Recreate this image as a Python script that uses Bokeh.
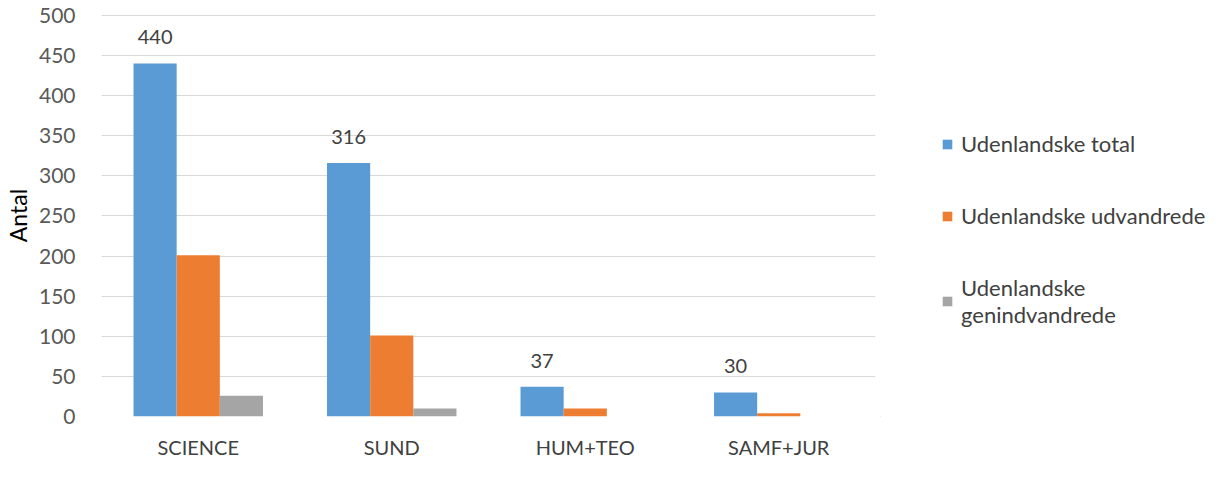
from bokeh.plotting import figure
from bokeh.models import ColumnDataSource, FactorRange, Range1d, Legend, LegendItem
from bokeh.layouts import row
from bokeh.transform import dodge
from bokeh.core.properties import value
from bokeh.embed import file_html
from bokeh.resources import INLINE

categories = ["SCIENCE", "SUND", "HUM+TEO", "SAMF+JUR"]
total = [440, 316, 37, 30]
udvandrede = [201, 101, 10, 4]
genindvandrede = [26, 10, 0, 0]
series_names = ["Udenlandske total", "Udenlandske udvandrede", "Udenlandske\ngenindvandrede"]
colors = ["#5B9BD5", "#ED7D31", "#A5A5A5"]
y_ticks = [0, 50, 100, 150, 200, 250, 300, 350, 400, 450, 500]

src = ColumnDataSource(dict(cat=categories, total=total, udv=udvandrede, gen=genindvandrede,
                            lbl=[str(v) for v in total]))

FONT = "Lato"
p = figure(x_range=FactorRange(*categories, range_padding=0), y_range=Range1d(0, 501),
           frame_width=774, height=461, output_backend="svg", toolbar_location=None,
           min_border_left=95, min_border_right=5, min_border_top=14, min_border_bottom=36)
p.outline_line_color = None
p.background_fill_color = "white"

w = 0.223
p.vbar(x=dodge("cat", -w, range=p.x_range), top="total", width=w, source=src, color=colors[0], line_color=None)
p.vbar(x=dodge("cat", 0, range=p.x_range), top="udv", width=w, source=src, color=colors[1], line_color=None)
p.vbar(x=dodge("cat", w, range=p.x_range), top="gen", width=w, source=src, color=colors[2], line_color=None)

p.text(x=dodge("cat", -w, range=p.x_range), y="total", text="lbl", source=src,
       text_align="center", text_baseline="bottom", y_offset=-19,
       text_font=value(FONT), text_font_size="20px", text_color="#404040")

p.yaxis.ticker = y_ticks
p.yaxis.axis_line_color = None
p.yaxis.major_tick_line_color = None
p.yaxis.minor_tick_line_color = None
p.yaxis.major_label_text_font = FONT
p.yaxis.major_label_text_font_size = "21px"
p.yaxis.major_label_text_color = "#595959"
p.yaxis.major_label_standoff = 20
p.yaxis.axis_label = "Antal"
p.yaxis.axis_label_text_font = FONT
p.yaxis.axis_label_text_font_size = "23px"
p.yaxis.axis_label_text_font_style = "normal"
p.yaxis.axis_label_text_color = "#000000"
p.yaxis.axis_label_standoff = 4

p.xaxis.axis_line_color = None
p.xaxis.major_tick_line_color = None
p.xaxis.minor_tick_line_color = None
p.xaxis.major_label_text_font = FONT
p.xaxis.major_label_text_font_size = "20px"
p.xaxis.major_label_text_color = "#404040"
p.xaxis.major_label_standoff = 12

p.xgrid.grid_line_color = None
p.ygrid.grid_line_color = "#D9D9D9"
p.ygrid.grid_line_width = 1

# legend panel
lg = figure(width=330, height=461, output_backend="svg", toolbar_location=None,
            x_axis_type=None, y_axis_type=None, x_range=Range1d(0, 1), y_range=Range1d(0, 1),
            min_border=0, min_border_left=0, min_border_right=0, min_border_top=0, min_border_bottom=0)
lg.outline_line_color = None
lg.xgrid.visible = False
lg.ygrid.visible = False
proxy = ColumnDataSource(dict(x=[-5], top=[-5]))
lr = [lg.vbar(x="x", top="top", width=0.1, source=proxy, color=c, line_color=None) for c in colors]

legend = Legend(items=[LegendItem(label=n, renderers=[r]) for n, r in zip(series_names, lr)],
                location=(61, 88), padding=0, margin=0, spacing=45,
                glyph_width=12, glyph_height=12, label_standoff=8, label_height=26,
                label_text_font=FONT, label_text_font_size="22px", label_text_color="#404040",
                border_line_color=None, background_fill_alpha=0)
lg.add_layout(legend, "center")

layout = row(p, lg, spacing=0)
open("out.html", "w").write(file_html(layout, INLINE))
